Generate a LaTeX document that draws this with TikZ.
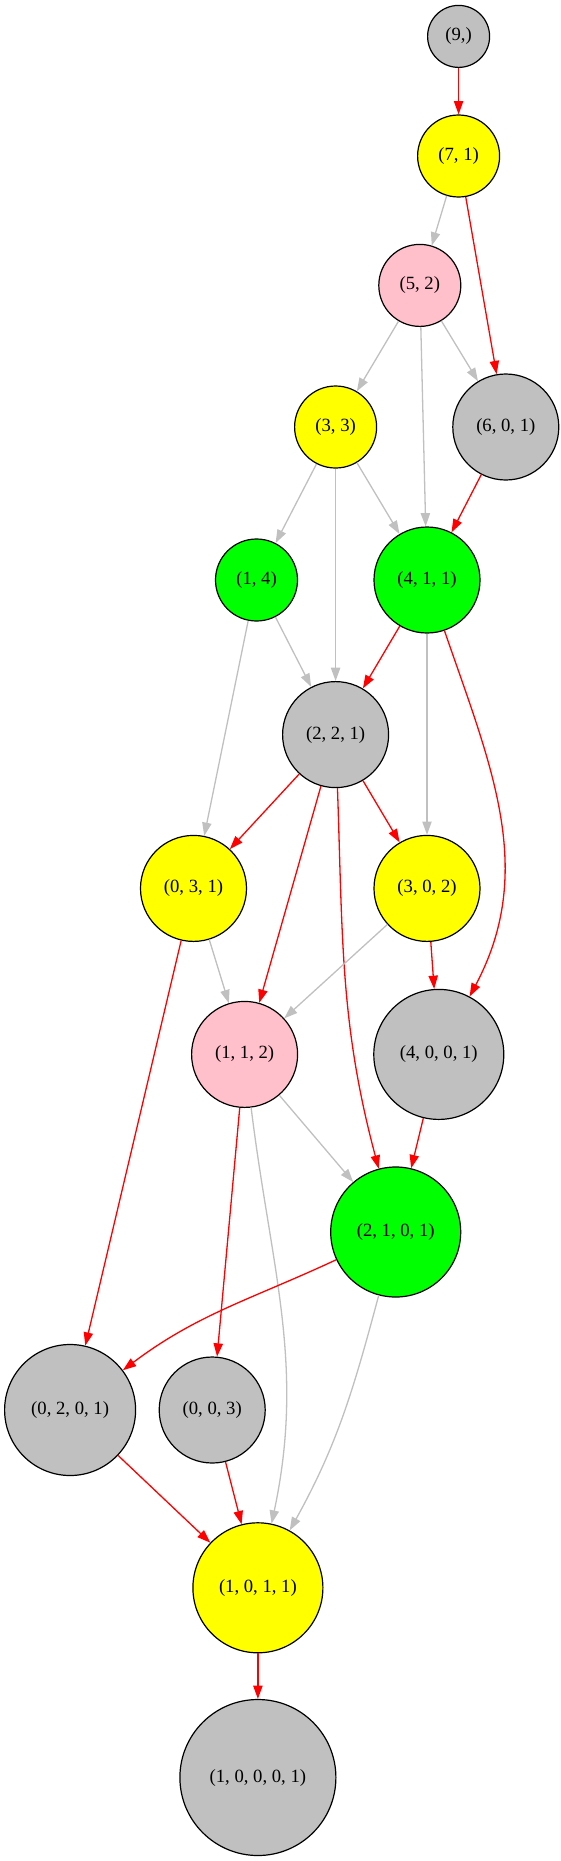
\documentclass[tikz,border=0pt]{standalone}
\usepackage{fontspec}
\setmainfont{Liberation Serif}
\usetikzlibrary{arrows.meta}
\definecolor{gvgray}{RGB}{192,192,192}
\definecolor{gvyellow}{RGB}{255,255,0}
\definecolor{gvgreen}{RGB}{0,255,0}
\definecolor{gvpink}{RGB}{255,192,203}
\definecolor{gvred}{RGB}{255,0,0}
\tikzset{
  st/.style={circle, draw=black, line width=1.2pt, inner sep=0pt, font=\fontsize{18.67}{22}\selectfont},
  sgray/.style={st, fill=gvgray},
  syellow/.style={st, fill=gvyellow},
  sgreen/.style={st, fill=gvgreen},
  spink/.style={st, fill=gvpink},
  edge/.style={line width=1.3pt, -{Triangle[length=13.3pt,width=9.3pt]}},
  redge/.style={edge, draw=gvred},
  gedge/.style={edge, draw=gvgray}
}
\begin{document}
\begin{tikzpicture}[x=1pt,y=1pt]
\useasboundingbox (0,0) rectangle (561,-1861);
\node[sgray,   minimum size=62pt]  (n9)    at (458.6,-36.4)  {(9,)};
\node[syellow, minimum size=82pt]  (n71)   at (458.6,-156)   {(7, 1)};
\node[spink,   minimum size=82pt]  (n52)   at (419.8,-285.4) {(5, 2)};
\node[syellow, minimum size=82pt]  (n33)   at (335.6,-427)   {(3, 3)};
\node[sgray,   minimum size=106pt] (n601)  at (505.8,-427)   {(6, 0, 1)};
\node[sgreen,  minimum size=82pt]  (n14)   at (256.5,-580)   {(1, 4)};
\node[sgreen,  minimum size=106pt] (n411)  at (427,-580)     {(4, 1, 1)};
\node[sgray,   minimum size=106pt] (n221)  at (335.6,-734.6) {(2, 2, 1)};
\node[syellow, minimum size=106pt] (n031)  at (193.5,-888.4) {(0, 3, 1)};
\node[syellow, minimum size=106pt] (n302)  at (427,-888.4)   {(3, 0, 2)};
\node[spink,   minimum size=106pt] (n112)  at (244.6,-1054.4) {(1, 1, 2)};
\node[sgray,   minimum size=130pt] (n4001) at (438.8,-1054.4) {(4, 0, 0, 1)};
\node[sgreen,  minimum size=130pt] (n2101) at (395.7,-1232)  {(2, 1, 0, 1)};
\node[sgray,   minimum size=131pt] (n0201) at (70.1,-1410)   {(0, 2, 0, 1)};
\node[sgray,   minimum size=106pt] (n003)  at (212.2,-1410)  {(0, 0, 3)};
\node[syellow, minimum size=130pt] (n1011) at (257.9,-1587.8) {(1, 0, 1, 1)};
\node[sgray,   minimum size=156pt] (n10001) at (257.9,-1777.5) {(1, 0, 0, 0, 1)};

\draw[redge] (n9) -- (n71);
\draw[gedge] (n71) -- (n52);
\draw[redge] (n71) -- (n601);
\draw[gedge] (n52) -- (n33);
\draw[gedge] (n52) -- (n601);
\draw[gedge] (n52) -- (n411);
\draw[gedge] (n33) -- (n14);
\draw[gedge] (n33) -- (n221);
\draw[gedge] (n33) -- (n411);
\draw[redge] (n601) -- (n411);
\draw[gedge] (n14) -- (n221);
\draw[gedge] (n14) -- (n031);
\draw[redge] (n411) -- (n221);
\draw[gedge] (n411) -- (n302);
\draw[redge] (n411) to[out=-71,in=62] (n4001);
\draw[redge] (n221) -- (n031);
\draw[redge] (n221) -- (n112);
\draw[redge] (n221) to[out=-88,in=105] (n2101);
\draw[redge] (n221) -- (n302);
\draw[gedge] (n031) -- (n112);
\draw[redge] (n031) -- (n0201);
\draw[gedge] (n302) -- (n112);
\draw[redge] (n302) -- (n4001);
\draw[gedge] (n112) -- (n2101);
\draw[redge] (n112) -- (n003);
\draw[gedge] (n112) to[out=-83,in=78] (n1011);
\draw[redge] (n4001) -- (n2101);
\draw[redge] (n2101) to[out=205,in=37] (n0201);
\draw[gedge] (n2101) to[out=-105,in=61] (n1011);
\draw[redge] (n0201) -- (n1011);
\draw[redge] (n003) -- (n1011);
\draw[redge] (n1011) -- (n10001);
\end{tikzpicture}
\end{document}
